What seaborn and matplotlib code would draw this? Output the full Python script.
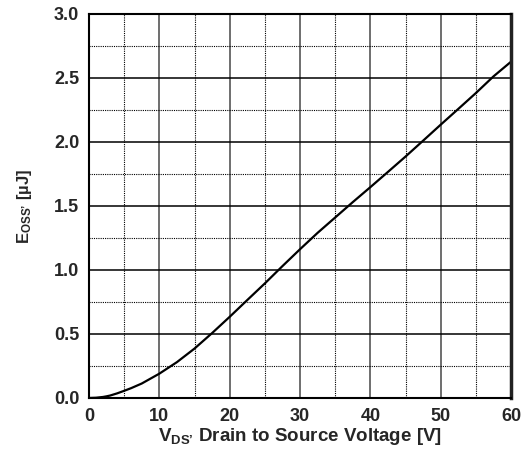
import numpy as np
import pandas as pd
import matplotlib
matplotlib.use("Agg")
import matplotlib.pyplot as plt
import seaborn as sns
from matplotlib.ticker import MultipleLocator

vds = [0, 1, 2, 2.5, 3, 4, 5, 6, 7.5, 10, 12.5, 15, 17.5, 20, 22.5, 25, 27.5,
       30, 32.5, 35, 37.5, 40, 42.5, 45, 47.5, 50, 52.5, 55, 57.5, 60]
eoss = [0.0, 0.002, 0.008, 0.013, 0.019, 0.036, 0.056, 0.077, 0.113, 0.19,
        0.28, 0.386, 0.507, 0.634, 0.765, 0.895, 1.03, 1.162, 1.29, 1.41,
        1.53, 1.647, 1.766, 1.886, 2.01, 2.135, 2.258, 2.382, 2.512, 2.627]
x_ticks = [0, 10, 20, 30, 40, 50, 60]
y_ticks = [0.0, 0.5, 1.0, 1.5, 2.0, 2.5, 3.0]

df = pd.DataFrame({"vds": vds, "eoss": eoss})

sns.set_theme(style="white")
plt.rcParams["font.family"] = ["Liberation Sans", "DejaVu Sans"]
plt.rcParams["font.weight"] = "bold"
plt.rcParams["mathtext.fontset"] = "custom"
plt.rcParams["mathtext.rm"] = "Liberation Sans:bold"
plt.rcParams["mathtext.it"] = "Liberation Sans:bold"
plt.rcParams["mathtext.bf"] = "Liberation Sans:bold"
plt.rcParams["mathtext.sf"] = "Liberation Sans:bold"
plt.rcParams["mathtext.default"] = "rm"

fig = plt.figure(figsize=(5.22, 4.5), dpi=100)
ax = fig.add_axes([0.1705, 0.1156, 0.979 - 0.1705, 0.969 - 0.1156])

sns.lineplot(data=df, x="vds", y="eoss", ax=ax, color="black", linewidth=1.6)

ax.set_xlim(0, 60)
ax.set_ylim(0, 3.0)
ax.set_xticks(x_ticks)
ax.set_yticks(y_ticks)
ax.set_xticklabels([str(t) for t in x_ticks])
ax.set_yticklabels([f"{t:.1f}" for t in y_ticks])
ax.xaxis.set_minor_locator(MultipleLocator(5))
ax.yaxis.set_minor_locator(MultipleLocator(0.25))
ax.xaxis.grid(True, which="major", color="#555555", linestyle="-", linewidth=1.2)
ax.yaxis.grid(True, which="major", color="black", linestyle="-", linewidth=1.1)
ax.grid(which="minor", color="black", linestyle=(0, (1, 1)), linewidth=0.8)
ax.tick_params(which="both", length=0, labelsize=13, pad=7)
for lbl in ax.get_xticklabels() + ax.get_yticklabels():
    lbl.set_fontweight("bold")

for side in ["left", "top", "bottom"]:
    ax.spines[side].set_color("black")
    ax.spines[side].set_linewidth(1.5)
ax.spines["right"].set_color("#222222")
ax.spines["right"].set_linewidth(2.5)

ax.set_xlabel("V$_{DS’}$ Drain to Source Voltage [V]", fontsize=13.5,
              fontweight="bold", labelpad=1)
ax.set_ylabel("E$_{OSS’}$ [µJ]", fontsize=12, fontweight="bold", labelpad=14)

fig.savefig("out.png", dpi=100)
